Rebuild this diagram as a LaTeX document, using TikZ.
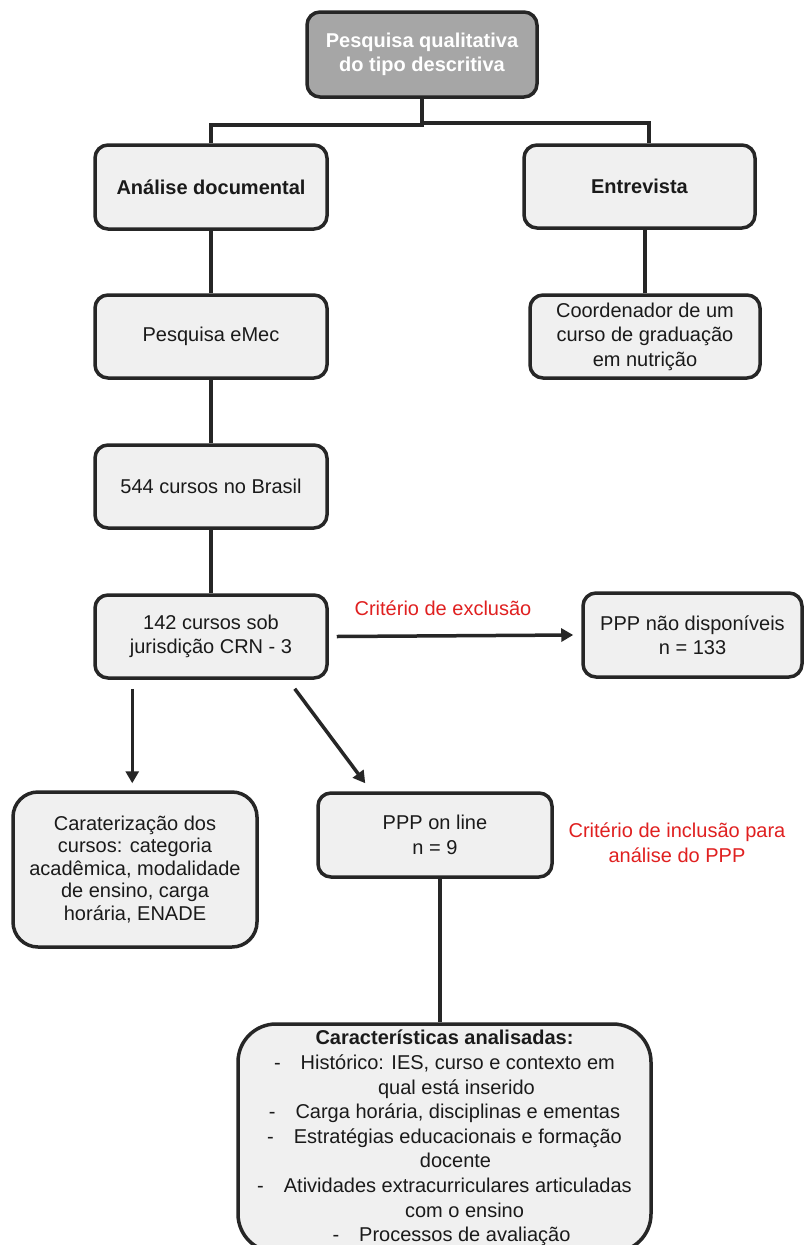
\documentclass[tikz,border=0pt]{standalone}
\usepackage{fontspec}
\setmainfont{Liberation Sans}
\usetikzlibrary{arrows.meta}
\definecolor{boxfill}{HTML}{F0F0F0}
\definecolor{topfill}{HTML}{A6A6A6}
\definecolor{edge}{HTML}{262626}
\definecolor{redtxt}{HTML}{E02020}
\definecolor{txt}{HTML}{1A1A1A}
\begin{document}
\begin{tikzpicture}[x=1pt,y=-1pt,
  box/.style={draw=edge, line width=3.5pt, fill=boxfill, rounded corners=13pt,
    align=center, text=txt, font=\fontsize{20}{24.5}\selectfont, inner sep=0pt},
  conn/.style={draw=edge, line width=3.5pt},
  arr/.style={conn, -{Triangle[length=12pt,width=13pt]}},
  lbl/.style={text=redtxt, align=center, font=\fontsize{20}{25}\selectfont, inner sep=0pt}]
\useasboundingbox (0,0) rectangle (804,1245);
\fill[white] (0,0) rectangle (804,1245);

% boxes
\node[box, fill=topfill, text=white, font=\bfseries\fontsize{20}{24}\selectfont,
  minimum width=230pt, minimum height=85pt] (top) at (422,54.5)
  {Pesquisa qualitativa\\do tipo descritiva};
\node[box, font=\bfseries\fontsize{20}{24}\selectfont, minimum width=232pt, minimum height=84pt]
  (ana) at (211,187) {Análise documental};
\node[box, font=\bfseries\fontsize{20}{24}\selectfont, minimum width=231pt, minimum height=83pt]
  (entr) at (639.5,186.5) {Entrevista};
\node[box, minimum width=232pt, minimum height=83pt] (emec) at (211,336.5) {Pesquisa eMec};
\node[box, minimum width=230pt, minimum height=83pt] (coord) at (645,336.5)
  {Coordenador de um\\curso de graduação\\em nutrição};
\node[box, minimum width=232pt, minimum height=83pt] (b544) at (211,486.5) {544 cursos no Brasil};
\node[box, minimum width=232pt, minimum height=83pt] (b142) at (211,636.5)
  {142 cursos sob\\jurisdição CRN - 3};
\node[box, minimum width=219pt, minimum height=84pt] (ppn) at (692.5,635)
  {PPP não disponíveis\\n = 133};
\node[box, rounded corners=25pt, font=\fontsize{20}{22.5}\selectfont,
  minimum width=244pt, minimum height=155pt] (cara) at (135,869.5)
  {Caraterização dos\\cursos: categoria\\acadêmica, modalidade\\de ensino, carga\\horária, ENADE};
\node[box, minimum width=234pt, minimum height=84pt] (ppon) at (435,835)
  {PPP on line\\n = 9};
\node[box, rounded corners=38pt, font=\fontsize{20}{24.6}\selectfont,
  minimum width=413pt, minimum height=228pt] (bot) at (444.5,1138)
  {\textbf{Características analisadas:}\\
   -\hspace{20pt}Histórico: IES, curso e contexto em\hspace*{20pt}\\
   \hspace*{24pt}qual está inserido\\
   -\hspace{20pt}Carga horária, disciplinas e ementas\\
   -\hspace{20pt}Estratégias educacionais e formação\\
   \hspace*{22pt}docente\\
   -\hspace{20pt}Atividades extracurriculares articuladas\hspace*{20pt}\\
   \hspace*{40pt}com o ensino\\
   \hspace*{14pt}-\hspace{20pt}Processos de avaliação};

% red labels
\node[lbl] (excl) at (443,608) {Critério de exclusão};
\node[lbl] (incl) at (677,842.5) {Critério de inclusão para\\análise do PPP};

% connectors
\coordinate (jr) at (649,123);
\draw[conn] (top.south) -- ++(0,26) -| (ana.north);
\draw[conn] (top.south) |- (jr) -- (jr |- entr.north);
\draw[conn] (ana.south) -- (emec.north);
\draw[conn] (emec.south) -- (b544.north);
\draw[conn] (b544.south) -- (b142.north);
\draw[conn] (coord.north) -- (coord.north |- entr.south);

\coordinate (ppbot) at ([xshift=5pt]ppon.south);
\draw[conn] (ppbot) -- (ppbot |- bot.north);

% arrows
\draw[arr] ([xshift=8pt]b142.east) -- ([xshift=-8pt]ppn.west);
\coordinate (ls) at ([shift={(39pt,-9pt)}]b142.south west);
\coordinate (le) at ([yshift=7pt]cara.north);
\draw[arr] (ls) -- (ls |- le);
\draw[arr] ([shift={(-34pt,-9pt)}]b142.south east) -- ([shift={(49pt,8pt)}]ppon.north west);
\end{tikzpicture}
\end{document}
